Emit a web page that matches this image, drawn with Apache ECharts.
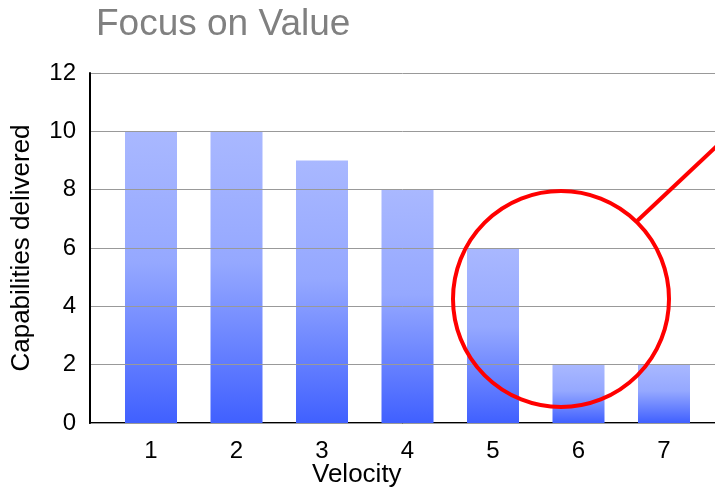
<!DOCTYPE html>
<html>
<head>
<meta charset="utf-8">
<script src="https://cdn.jsdelivr.net/npm/echarts@6/dist/echarts.min.js"></script>
<style>
  html, body { margin: 0; padding: 0; background: #fff; }
  #main { width: 715px; height: 491px; }
</style>
</head>
<body>
<div id="main"></div>
<script>
// velocity categories and capabilities delivered
const velocity = [1, 2, 3, 4, 5, 6, 7];
const capabilities = [10, 10, 9, 8, 6, 2, 2];
const yTicks = [0, 2, 4, 6, 8, 10, 12];

const chart = echarts.init(document.getElementById('main'));

const barColor = new echarts.graphic.LinearGradient(0, 0, 0, 1, [
  { offset: 0, color: '#a9b8ff' },
  { offset: 0.45, color: '#95a8ff' },
  { offset: 1, color: '#4060ff' }
]);

const option = {
  animation: false,
  textStyle: { fontFamily: 'Liberation Sans, Arial, sans-serif' },
  title: [
    {
      text: 'Focus on Value',
      left: 91,
      top: 1,
      textStyle: { color: '#808080', fontSize: 37, fontWeight: 'normal' }
    },
    {
      text: 'Velocity',
      left: 307,
      top: 457,
      textStyle: { color: '#000', fontSize: 26, fontWeight: 'normal' }
    }
  ],
  grid: { left: 90, right: 0, top: 73, bottom: 68 },
  xAxis: {
    type: 'value',
    min: 0.2865,
    max: 7.5965,
    axisLine: { show: true, lineStyle: { color: '#000', width: 2 } },
    axisTick: { show: false },
    splitLine: { show: false },
    axisLabel: {
      customValues: velocity,
      color: '#000',
      fontSize: 24,
      margin: 16
    }
  },
  yAxis: {
    type: 'value',
    min: 0,
    max: 12,
    interval: 2,
    z: 5,
    name: 'Capabilities delivered',
    nameLocation: 'middle',
    nameGap: 55,
    nameTextStyle: { color: '#000', fontSize: 26 },
    axisLine: { show: true, lineStyle: { color: '#000', width: 2 } },
    axisTick: { show: false },
    axisLabel: { color: '#000', fontSize: 24, margin: 14, customValues: yTicks },
    splitLine: { show: true, lineStyle: { color: '#999', width: 1 } }
  },
  series: [
    {
      type: 'bar',
      barWidth: 52,
      itemStyle: { color: barColor },
      data: velocity.map((v, i) => [v, capabilities[i]])
    }
  ],
  graphic: [
    {
      type: 'circle',
      z: 100,
      shape: { cx: 561, cy: 299, r: 108 },
      style: { fill: 'none', stroke: '#ff0000', lineWidth: 4 }
    },
    {
      type: 'line',
      z: 100,
      shape: { x1: 636, y1: 222, x2: 718, y2: 145 },
      style: { stroke: '#ff0000', lineWidth: 4 }
    }
  ]
};

chart.setOption(option);
</script>
</body>
</html>
